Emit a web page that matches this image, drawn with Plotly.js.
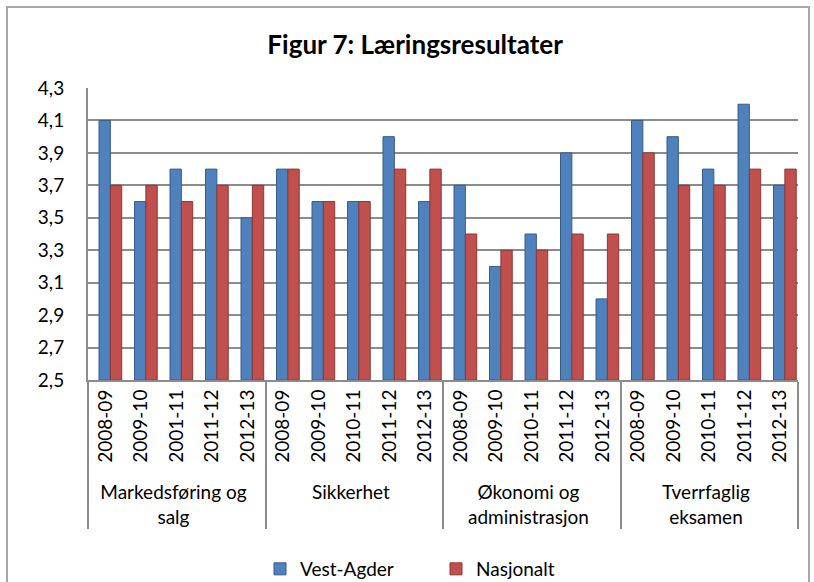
<!DOCTYPE html>
<html>
<head>
<meta charset="utf-8">
<script src="https://cdn.plot.ly/plotly-3.0.1.min.js"></script>
<style>
  html, body { margin: 0; padding: 0; background: #fff; overflow: hidden; }
  #wrap { position: relative; width: 814px; height: 582px; }
  #chart { width: 814px; height: 582px; }
  #frame { position: absolute; left: 6px; top: 6px; width: 804px; height: 600px;
           border: 2px solid #a6a6a6; pointer-events: none; box-sizing: border-box; }
</style>
</head>
<body>
<div id="wrap">
  <div id="chart"></div>
  <div id="frame"></div>
</div>
<script>
// ---- data ----
const groups = ["Markedsføring og<br>salg", "Sikkerhet", "Økonomi og<br>administrasjon", "Tverrfaglig<br>eksamen"];
const years = [
  ["2008-09", "2009-10", "2001-11", "2011-12", "2012-13"],
  ["2008-09", "2009-10", "2010-11", "2011-12", "2012-13"],
  ["2008-09", "2009-10", "2010-11", "2011-12", "2012-13"],
  ["2008-09", "2009-10", "2010-11", "2011-12", "2012-13"]
];
const vestAgder = [4.1, 3.6, 3.8, 3.8, 3.5,  3.8, 3.6, 3.6, 4.0, 3.6,  3.7, 3.2, 3.4, 3.9, 3.0,  4.1, 4.0, 3.8, 4.2, 3.7];
const nasjonalt = [3.7, 3.7, 3.6, 3.7, 3.7,  3.8, 3.6, 3.6, 3.8, 3.8,  3.4, 3.3, 3.3, 3.4, 3.4,  3.9, 3.7, 3.7, 3.8, 3.8];
const seriesNames = ["Vest-Agder", "Nasjonalt"];
const axisMin = 2.5;

// ---- build multicategory x ----
const outer = [], inner = [], pos = [];
groups.forEach((g, i) => years[i].forEach((y, k) => { outer.push(g); inner.push(y); pos.push(k); }));

// Plotly orders multicategory inner labels by first appearance; emit points so that
// every inner label first appears in its slot order (keeps "2001-11" and "2010-11" in place).
const firstOrder = [];
const seenLab = {};
const maxLen = Math.max(...years.map(a => a.length));
for (let k = 0; k < maxLen; k++) {
  outer.forEach((g, idx) => {
    if (pos[idx] === k && !(inner[idx] in seenLab)) { seenLab[inner[idx]] = 1; firstOrder.push(idx); }
  });
}
const order = firstOrder.concat(outer.map((_, i) => i).filter(i => !firstOrder.includes(i)));
const pick = arr => order.map(i => arr[i]);

const FONT = "Lato, 'Open Sans', sans-serif";

const traces = [
  {
    type: "bar", name: seriesNames[0], x: [pick(outer), pick(inner)],
    y: pick(vestAgder).map(v => v - axisMin), base: axisMin,
    marker: { color: "#4F81BD", line: { color: "#385D8A", width: 1 } },
    width: 0.32, offset: -0.19
  },
  {
    type: "bar", name: seriesNames[1], x: [pick(outer), pick(inner)],
    y: pick(nasjonalt).map(v => v - axisMin), base: axisMin,
    marker: { color: "#C0504D", line: { color: "#8C3836", width: 1 } },
    width: 0.32, offset: 0.13
  }
];

const layout = {
  width: 814, height: 582,
  paper_bgcolor: "#ffffff", plot_bgcolor: "#ffffff",
  separators: ", ",
  font: { family: FONT, size: 19, color: "#000000" },
  margin: { l: 88, r: 16, t: 88, b: 202 },
  title: {
    text: "<b>Figur 7: Læringsresultater</b>",
    font: { family: FONT, size: 26, color: "#000000" },
    x: 0.51, xanchor: "center", y: 1 - 45 / 582, yanchor: "middle"
  },
  barmode: "group",
  showlegend: true,
  legend: {
    orientation: "h", xref: "container", yref: "container",
    x: 260 / 814, xanchor: "left", y: 1 - 569 / 582, yanchor: "middle",
    font: { family: FONT, size: 19, color: "#000000" },
    entrywidth: 131, entrywidthmode: "pixels", itemwidth: 30
  },
  xaxis: {
    type: "multicategory",
    showline: true, linecolor: "#8c8c8c", linewidth: 2,
    showgrid: false, zeroline: false,
    tickangle: -90,
    ticks: "outside", ticklen: 10, tickcolor: "rgba(0,0,0,0)",
    tickfont: { family: FONT, size: 19, color: "#000000" },
    showdividers: true, dividercolor: "#8c8c8c", dividerwidth: 2,
    automargin: false, fixedrange: true
  },
  yaxis: {
    range: [2.5, 4.3], dtick: 0.2, tick0: 2.5, tickformat: ".1f",
    showline: true, linecolor: "#8c8c8c", linewidth: 2,
    showgrid: true, gridcolor: "#8c8c8c", gridwidth: 2,
    zeroline: false, ticks: "", ticklabelstandoff: 18,
    tickfont: { family: FONT, size: 19, color: "#000000" },
    automargin: false, fixedrange: true
  }
};

Plotly.newPlot("chart", traces, layout, { displayModeBar: false, staticPlot: true });
</script>
</body>
</html>
